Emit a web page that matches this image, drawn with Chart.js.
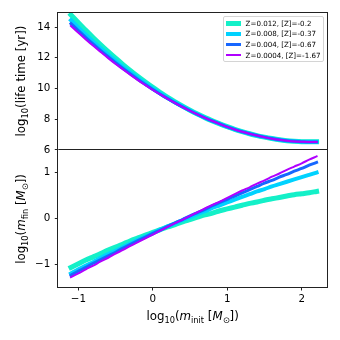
<!DOCTYPE html>
<html><head><meta charset="utf-8">
<script src="https://cdn.jsdelivr.net/npm/chart.js@4.4.1/dist/chart.umd.min.js"></script>
<style>
html,body{margin:0;padding:0;background:#fff;}
#wrap{position:relative;width:340px;height:340px;font-family:"DejaVu Sans",sans-serif;color:#000;}
canvas{position:absolute;left:0;top:0;}
.lab{position:absolute;font-size:11.8px;white-space:nowrap;line-height:1;}
.lab sub{font-size:70%;vertical-align:-0.3em;line-height:0;}
.rot{transform:translate(-50%,-50%) rotate(-90deg);}
.hor{transform:translate(-50%,-50%);}
#legend{position:absolute;right:16.2px;top:15.9px;background:rgba(255,255,255,0.85);border:1px solid #d4d4d4;border-radius:2px;padding:2.6px 2.4px 2.6px 2.6px;font-size:7.1px;line-height:1;}
#legend .row{display:flex;align-items:center;height:7.6px;margin:0;}
#legend .row + .row{margin-top:3px;}
#legend .h{display:inline-block;width:14.5px;margin-right:5px;}
</style>
</head><body>
<div id="wrap">
<canvas id="c" width="340" height="340"></canvas>
<div class="lab rot" style="left:22px;top:81.3px">log<sub>10</sub>(life time [yr])</div>
<div class="lab rot" style="left:21.5px;top:218.5px">log<sub>10</sub>(<i>m</i><sub>fin</sub> [<i>M</i><sub>⊙</sub>])</div>
<div class="lab hor" style="left:192.6px;top:316.5px">log<sub>10</sub>(<i>m</i><sub>init</sub> [<i>M</i><sub>⊙</sub>])</div>
<div id="legend"></div>
</div>
<script>
// ---- data ----
const logMinit = [-1.1,-1.0,-0.9,-0.8,-0.7,-0.6,-0.5,-0.4,-0.3,-0.2,-0.1,0.0,0.1,0.2,0.3,0.4,0.5,0.6,0.7,0.8,0.9,1.0,1.1,1.2,1.3,1.4,1.5,1.6,1.7,1.8,1.9,2.0,2.1,2.2];

const lifeZ012  = [14.80,14.29,13.79,13.31,12.85,12.40,11.97,11.56,11.16,10.78,10.42,10.07,9.74,9.42,9.13,8.85,8.58,8.33,8.10,7.89,7.69,7.51,7.34,7.19,7.05,6.93,6.83,6.74,6.66,6.60,6.56,6.53,6.52,6.52];
const lifeZ008  = [14.45,13.97,13.50,13.05,12.62,12.20,11.79,11.40,11.03,10.67,10.32,9.99,9.67,9.37,9.09,8.82,8.56,8.32,8.09,7.88,7.69,7.50,7.34,7.19,7.05,6.93,6.83,6.74,6.66,6.60,6.56,6.53,6.52,6.52];
const lifeZ004  = [14.23,13.77,13.32,12.89,12.47,12.07,11.68,11.30,10.94,10.59,10.26,9.94,9.63,9.34,9.06,8.80,8.55,8.31,8.09,7.88,7.69,7.50,7.33,7.18,7.05,6.93,6.83,6.74,6.66,6.60,6.56,6.53,6.51,6.51];
const lifeZ0004 = [14.08,13.63,13.20,12.78,12.38,11.98,11.60,11.24,10.88,10.54,10.22,9.90,9.61,9.32,9.05,8.79,8.54,8.31,8.09,7.88,7.68,7.50,7.33,7.18,7.05,6.93,6.82,6.73,6.66,6.60,6.55,6.52,6.51,6.51];

const mfinZ012  = [-1.06,-0.98,-0.90,-0.83,-0.76,-0.68,-0.62,-0.55,-0.48,-0.42,-0.36,-0.30,-0.24,-0.18,-0.13,-0.07,-0.02,0.03,0.08,0.12,0.17,0.21,0.25,0.29,0.33,0.36,0.40,0.43,0.46,0.49,0.52,0.54,0.56,0.59];
const mfinZ008  = [-1.19,-1.10,-1.02,-0.94,-0.85,-0.77,-0.70,-0.62,-0.54,-0.46,-0.39,-0.32,-0.24,-0.17,-0.10,-0.03,0.03,0.10,0.16,0.23,0.29,0.35,0.41,0.47,0.53,0.59,0.64,0.70,0.75,0.80,0.85,0.90,0.95,1.00];
const mfinZ004  = [-1.23,-1.14,-1.06,-0.97,-0.89,-0.81,-0.73,-0.64,-0.56,-0.48,-0.40,-0.32,-0.25,-0.17,-0.09,-0.02,0.06,0.13,0.20,0.28,0.35,0.42,0.49,0.56,0.63,0.70,0.77,0.83,0.90,0.96,1.03,1.09,1.16,1.22];
const mfinZ0004 = [-1.27,-1.19,-1.10,-1.02,-0.93,-0.85,-0.76,-0.68,-0.59,-0.51,-0.43,-0.35,-0.26,-0.18,-0.10,-0.02,0.06,0.14,0.22,0.30,0.37,0.45,0.53,0.61,0.68,0.76,0.83,0.91,0.98,1.06,1.13,1.20,1.28,1.35];

const seriesLabels = ['Z=0.012, [Z]=-0.2','Z=0.008, [Z]=-0.37','Z=0.004, [Z]=-0.67','Z=0.0004, [Z]=-1.67'];
const xTicks = [-1,0,1,2];
const lifeTicks = [6,8,10,12,14];
const mfinTicks = [-1,0,1];

// ---- styling ----
const colors = ['#14f0c8','#00d2ff','#1767ff','#b000ff'];
const widths = [5,4,3,2];
const lifeSeries = [lifeZ012,lifeZ008,lifeZ004,lifeZ0004];
const mfinSeries = [mfinZ012,mfinZ008,mfinZ004,mfinZ0004];

const pts = arr => arr.map((v,i)=>({x:logMinit[i], y:v}));
const datasets = [];
lifeSeries.forEach((s,i)=>datasets.push({label:seriesLabels[i], data:pts(s), yAxisID:'y', borderColor:colors[i], borderWidth:widths[i], order:4-i}));
mfinSeries.forEach((s,i)=>datasets.push({label:seriesLabels[i]+' ', data:pts(s), yAxisID:'y2', borderColor:colors[i], borderWidth:widths[i], order:4-i}));
datasets.forEach(d=>{d.pointRadius=0;d.fill=false;d.borderCapStyle='square';d.cubicInterpolationMode='monotone';d.borderJoinStyle='round';});

// legend
const lg = document.getElementById('legend');
seriesLabels.forEach((t,i)=>{
  const r=document.createElement('div');r.className='row';
  const h=document.createElement('span');h.className='h';h.style.height=widths[i]+'px';h.style.background=colors[i];
  const s=document.createElement('span');s.textContent=t;
  r.appendChild(h);r.appendChild(s);lg.appendChild(r);
});

const fmt = v => v<0 ? '\u2212'+Math.abs(v) : String(v);
const tickFont = {family:'DejaVu Sans', size:10.3};
const gridOpt = {display:true, drawOnChartArea:false, drawTicks:true, tickLength:3.5, tickWidth:1, tickColor:'#222'};
const setTicks = arr => (s => { s.ticks = arr.map(v=>({value:v})); });

const frame = {
  id:'frame',
  afterDatasetsDraw(chart){
    const {ctx, chartArea:a} = chart;
    const yb = chart.scales.y.bottom;
    ctx.save();
    ctx.strokeStyle='#222'; ctx.lineWidth=1;
    ctx.strokeRect(Math.round(a.left)-0.5, Math.round(a.top)-0.5, Math.round(a.right-a.left)+1, Math.round(a.bottom-a.top)+1);
    ctx.beginPath(); ctx.moveTo(a.left, Math.round(yb)-0.5); ctx.lineTo(a.right, Math.round(yb)-0.5); ctx.stroke();
    ctx.restore();
  }
};

new Chart(document.getElementById('c'), {
  type:'line',
  data:{datasets},
  options:{
    responsive:false, animation:false, devicePixelRatio:1,
    layout:{padding:{left:0, top:12.7, right:13, bottom:0}},
    plugins:{legend:{display:false}, tooltip:{enabled:false}},
    scales:{
      x:{type:'linear', position:'bottom', min:-1.27, max:2.34,
         afterBuildTicks:setTicks(xTicks), afterFit:s=>{s.height=53;},
         ticks:{font:tickFont, color:'#000', padding:2.5, callback:fmt, maxRotation:0, autoSkip:false},
         grid:gridOpt, border:{display:false}},
      y:{type:'linear', position:'left', stack:'p', stackWeight:1, weight:2, min:6, max:14.94,
         afterBuildTicks:setTicks(lifeTicks), afterFit:s=>{s.width=58.3;},
         ticks:{font:tickFont, color:'#000', padding:4.5, callback:fmt, autoSkip:false},
         grid:gridOpt, border:{display:false}},
      y2:{type:'linear', position:'left', stack:'p', stackWeight:1, weight:1, min:-1.485, max:1.493,
         afterBuildTicks:setTicks(mfinTicks), afterFit:s=>{s.width=58.3;},
         ticks:{font:tickFont, color:'#000', padding:4.5, callback:fmt, autoSkip:false},
         grid:gridOpt, border:{display:false}}
    }
  },
  plugins:[frame]
});
</script>
</body></html>
